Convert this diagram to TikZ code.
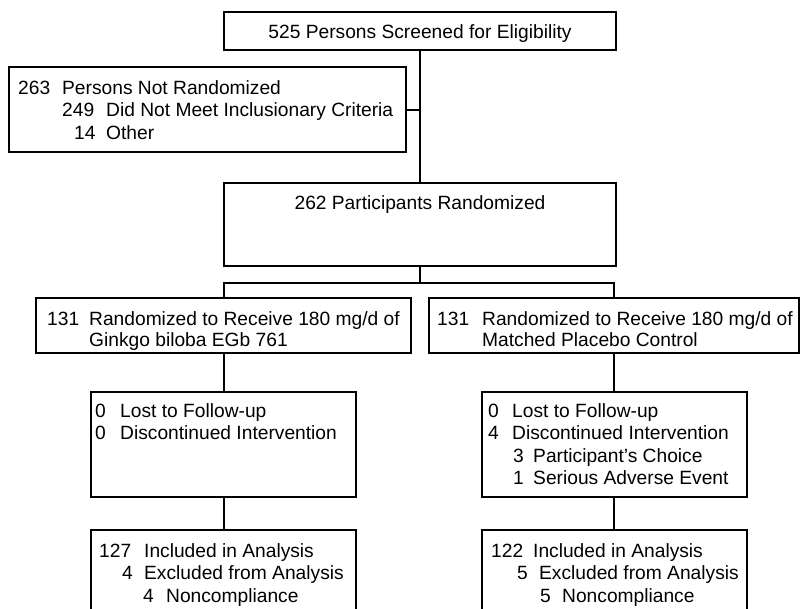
\documentclass[tikz,border=0pt]{standalone}
\usepackage{fontspec}
\setmainfont{Liberation Sans}

% number at #1, text starting at #3
\newcommand{\entry}[4]{\makebox[#3][l]{\hspace*{#1}#2}#4}

\begin{document}
\begin{tikzpicture}[x=1pt, y=-1pt,
    box/.style={draw, line width=2pt, inner sep=0pt},
    txt/.style={anchor=base west, inner sep=0pt, font=\fontsize{19.2}{#1}\selectfont},
    txt/.default=22,
    head/.style={anchor=base, inner sep=0pt, font=\fontsize{19.2}{22}\selectfont},
    link/.style={line width=2pt}]
	\useasboundingbox (0,0) rectangle (800,608);

	% boxes
	\node[box, minimum width=392pt, minimum height=38pt] (screen) at (420,31) {};
	\node[box, minimum width=397pt, minimum height=85pt] (notrand) at (207.5,109.5) {};
	\node[box, minimum width=392pt, minimum height=83pt] (rand) at (420,224.5) {};
	\node[box, minimum width=375pt, minimum height=55pt] (armG) at (223.5,325.5) {};
	\node[box, minimum width=370pt, minimum height=55pt] (armP) at (614,325.5) {};
	\node[box, minimum width=265pt, minimum height=105pt] (fuG) at (223.5,444.5) {};
	\node[box, minimum width=265pt, minimum height=105pt] (fuP) at (614,444.5) {};
	\node[box, minimum width=265pt, minimum height=110pt] (anG) at (223.5,585) {};
	\node[box, minimum width=265pt, minimum height=110pt] (anP) at (614,585) {};

	% texts
	\node[head] (screen-t) at (420,38) {525 Persons Screened for Eligibility};
	\node[head] (rand-t) at (420,209) {262 Participants Randomized};
	\node[txt=22.5] (notrand-t) at (18,94) {\parbox[t]{380pt}{%
		\entry{0pt}{263}{44pt}{Persons Not Randomized}\\
		\entry{44pt}{249}{88pt}{Did Not Meet Inclusionary Criteria}\\
		\entry{56pt}{14}{88pt}{Other}}};
	\node[txt=21.5] (armG-t) at (47,325) {\parbox[t]{360pt}{%
		\entry{0pt}{131}{42pt}{Randomized to Receive 180 mg/d of}\\
		\entry{0pt}{}{42pt}{Ginkgo biloba EGb 761}}};
	\node[txt=21.5] (armP-t) at (437,325) {\parbox[t]{360pt}{%
		\entry{0pt}{131}{45pt}{Randomized to Receive 180 mg/d of}\\
		\entry{0pt}{}{45pt}{Matched Placebo Control}}};
	\node[txt=22.3] (fuG-t) at (95,417.5) {\parbox[t]{250pt}{%
		\entry{0pt}{0}{25pt}{Lost to Follow-up}\\
		\entry{0pt}{0}{25pt}{Discontinued Intervention}}};
	\node[txt=22.3] (fuP-t) at (488,417.5) {\parbox[t]{250pt}{%
		\entry{0pt}{0}{24pt}{Lost to Follow-up}\\
		\entry{0pt}{4}{24pt}{Discontinued Intervention}\\
		\entry{25pt}{3}{45pt}{Participant's Choice}\\
		\entry{25pt}{1}{45pt}{Serious Adverse Event}}};
	\node[txt=22.5] (anG-t) at (99,557) {\parbox[t]{250pt}{%
		\entry{0pt}{127}{45pt}{Included in Analysis}\\
		\entry{23pt}{4}{45pt}{Excluded from Analysis}\\
		\entry{44pt}{4}{67pt}{Noncompliance}}};
	\node[txt=22.5] (anP-t) at (491,557) {\parbox[t]{250pt}{%
		\entry{0pt}{122}{42pt}{Included in Analysis}\\
		\entry{26pt}{5}{48pt}{Excluded from Analysis}\\
		\entry{49pt}{5}{71pt}{Noncompliance}}};

	% connectors
	\coordinate (join) at (420,109.5);
	\draw[link] (screen.south) -- (rand.north);
	\draw[link] (notrand.east) -- (join);
	\draw[link] (rand.south) -- ++(0,16) coordinate (split);
	\draw[link] (armG.north) |- (split) -| (armP.north);
	\draw[link] (armG.south) -- (fuG.north);
	\draw[link] (armP.south) -- (fuP.north);
	\draw[link] (fuG.south) -- (anG.north);
	\draw[link] (fuP.south) -- (anP.north);
\end{tikzpicture}
\end{document}
